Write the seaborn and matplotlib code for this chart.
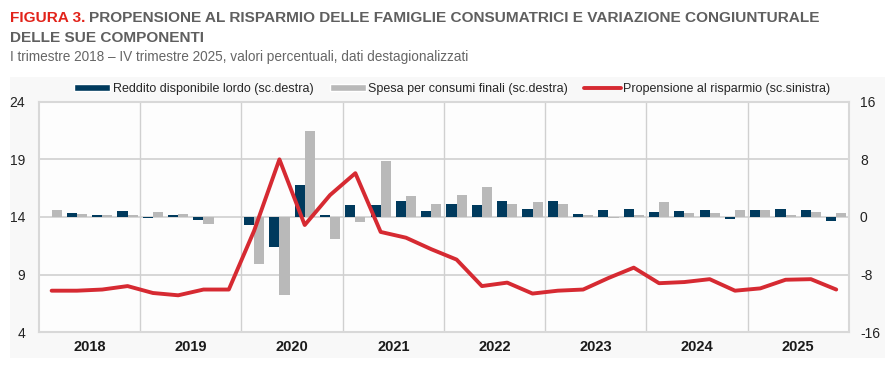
import numpy as np
import pandas as pd
import matplotlib
matplotlib.use("Agg")
import matplotlib.pyplot as plt
import seaborn as sns
from matplotlib.patches import Rectangle, Patch
from matplotlib.lines import Line2D

# Dati, trimestri I-2018 .. IV-2025
years = ["2018", "2019", "2020", "2021", "2022", "2023", "2024", "2025"]
quarters = [f"{y}Q{q}" for y in years for q in range(1, 5)]

reddito = [0.0, 0.5, 0.28, 0.8, -0.19, 0.28, -0.37, 0.05,
           -1.1, -4.2, 4.5, 0.23, 1.63, 1.72, 2.2, 0.8,
           1.86, 1.63, 2.2, 1.16, 2.2, 0.47, 1.0, 1.16,
           0.65, 0.8, 0.93, -0.28, 1.0, 1.16, 0.93, -0.5]
spesa = [1.0, 0.37, 0.28, 0.23, 0.65, 0.37, -1.0, 0.0,
         -6.6, -10.9, 12.0, -3.1, -0.7, 7.8, 2.9, 1.8,
         3.0, 4.2, 1.8, 2.05, 1.8, 0.28, -0.14, 0.23,
         2.05, 0.5, 0.5, 1.0, 0.93, 0.33, 0.65, 0.5]
propensione = [7.6, 7.6, 7.7, 8.0, 7.4, 7.2, 7.7, 7.7,
               12.8, 19.0, 13.3, 15.9, 17.8, 12.7, 12.2, 11.2,
               10.3, 8.0, 8.3, 7.35, 7.6, 7.7, 8.7, 9.6,
               8.25, 8.35, 8.6, 7.6, 7.8, 8.55, 8.6, 7.7]

lab_red = "Reddito disponibile lordo (sc.destra)"
lab_spe = "Spesa per consumi finali (sc.destra)"
lab_pro = "Propensione al risparmio (sc.sinistra)"

NAVY = "#003a5d"
GREY = "#b9b9b9"
RED = "#d62a32"
GRID = "#d0d0d0"

bars = pd.DataFrame({
    "trimestre": quarters * 2,
    "valore": reddito + spesa,
    "serie": [lab_red] * len(quarters) + [lab_spe] * len(quarters),
})
line = pd.DataFrame({"pos": np.arange(len(quarters)), "valore": propensione})

sns.set_theme(style="white")
plt.rcParams["font.family"] = ["Liberation Sans", "DejaVu Sans"]
plt.rcParams["axes.unicode_minus"] = False

fig = plt.figure(figsize=(8.9, 3.84), dpi=100)
fig.patches.append(Rectangle((0.011, 0.068), 0.983, 0.732, transform=fig.transFigure,
                             facecolor="#f8f8f8", edgecolor="none", zorder=-10))
ax = fig.add_axes([0.0438, 0.135, 0.910, 0.600])
ax.set_facecolor("#fdfdfd")
ax2 = ax.twinx()

# barre (scala destra)
sns.barplot(data=bars, x="trimestre", y="valore", hue="serie", order=quarters,
            palette=[NAVY, GREY], width=0.8, saturation=1, ax=ax, legend=False,
            edgecolor="none")
ax.set_ylim(-16, 16)
ax.set_yticks([-16, -8, 0, 8, 16])
ax.set_ylabel("")
ax.set_xlabel("")

# griglia
for yv in [-8, 0, 8]:
    ax.axhline(yv, color=GRID, lw=1.2, zorder=0)
for xv in np.arange(3.5, 31, 4):
    ax.axvline(xv, color=GRID, lw=1.0, zorder=0)
for s in ax.spines.values():
    s.set_color("#d8d8d8")
    s.set_linewidth(1.5)

ax.set_xticks(np.arange(1.5, 32, 4))
ax.set_xticklabels(years, fontweight="bold", fontsize=10.5, color="#1a1a1a")
ax.tick_params(axis="x", length=0, pad=6)
ax.set_xlim(-0.5, 31.5)

# linea (scala sinistra)
sns.lineplot(data=line, x="pos", y="valore", color=RED, lw=2.8, ax=ax2)
ax2.set_ylim(4, 24)
ax2.set_yticks([4, 9, 14, 19, 24])
ax2.set_ylabel("")
ax2.set_xlabel("")
for s in ax2.spines.values():
    s.set_visible(False)
ax2.set_xlim(-0.5, 31.5)

# assi: sinistra = propensione, destra = variazioni
ax.yaxis.tick_right()
ax2.yaxis.tick_left()
ax.tick_params(axis="y", length=0, labelsize=10, pad=8, colors="#222222")
ax2.tick_params(axis="y", length=0, labelsize=10, pad=10, colors="#222222")

handles = [Patch(facecolor=NAVY, label=lab_red),
           Patch(facecolor=GREY, label=lab_spe),
           Line2D([0], [0], color=RED, lw=2.8, label=lab_pro)]
fig.legend(handles=handles, loc="center", bbox_to_anchor=(0.508, 0.768), ncol=3,
           frameon=False, fontsize=9, handlelength=2.9, handleheight=0.55,
           columnspacing=1.3, handletextpad=0.2)

t1 = fig.text(0.011, 0.944, "FIGURA 3.", color="#e2231a", fontweight="bold", fontsize=11.1)
fig.canvas.draw()
bb = t1.get_window_extent(fig.canvas.get_renderer())
fig.text(bb.x1 / fig.bbox.width + 0.004, 0.944,
         "PROPENSIONE AL RISPARMIO DELLE FAMIGLIE CONSUMATRICI E VARIAZIONE CONGIUNTURALE",
         color="#5f5f5f", fontweight="bold", fontsize=11.1)
fig.text(0.011, 0.890, "DELLE SUE COMPONENTI", color="#5f5f5f", fontweight="bold", fontsize=11.1)
fig.text(0.011, 0.840, "I trimestre 2018 \u2013 IV trimestre 2025, valori percentuali, dati destagionalizzati",
         color="#666666", fontsize=9.8)

fig.savefig("out.png", dpi=100)
